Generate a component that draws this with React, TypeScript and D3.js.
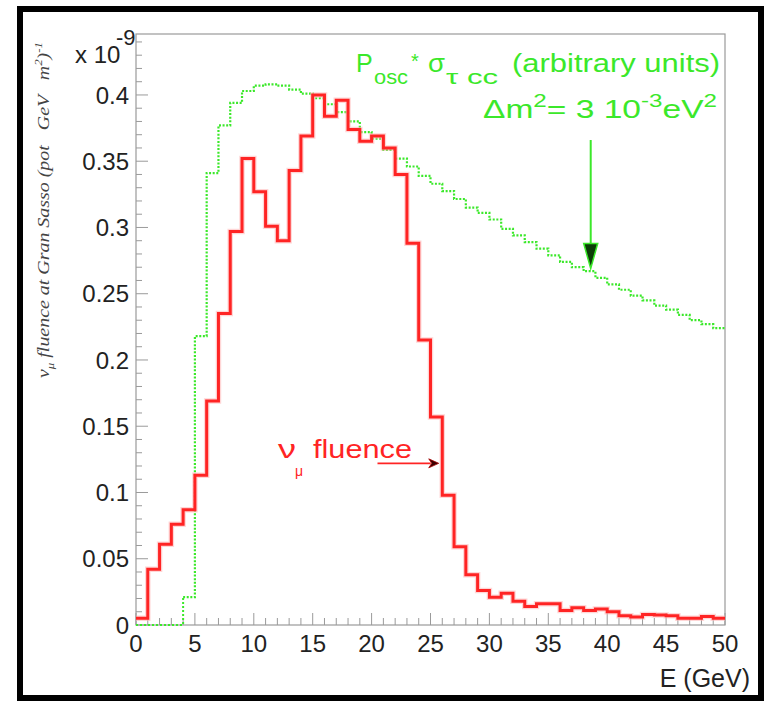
import React from 'react';
import * as d3 from 'd3';

// nu_mu fluence at Gran Sasso (x 1e-9), 1 GeV bins from 0 to 50
const binEdges = d3.range(0, 51, 1);
const numuFluence = [
  0.005, 0.042, 0.061, 0.076, 0.087, 0.113, 0.169, 0.235, 0.297, 0.352,
  0.327, 0.301, 0.290, 0.343, 0.369, 0.400, 0.384, 0.396, 0.374, 0.365,
  0.369, 0.360, 0.340, 0.288, 0.215, 0.157, 0.098, 0.059, 0.038, 0.026,
  0.021, 0.024, 0.018, 0.014, 0.016, 0.016, 0.011, 0.013, 0.011, 0.012,
  0.010, 0.007, 0.006, 0.008, 0.0075, 0.007, 0.005, 0.005, 0.0065, 0.005,
];
// P_osc * sigma_tau cc (arbitrary units)
const oscXsec = [
  0, 0, 0, 0, 0.021, 0.218, 0.341, 0.377, 0.394, 0.403,
  0.407, 0.408, 0.407, 0.404, 0.401, 0.3975, 0.393, 0.387, 0.380, 0.372,
  0.367, 0.3585, 0.352, 0.346, 0.339, 0.333, 0.3275, 0.3215, 0.315, 0.311,
  0.306, 0.299, 0.294, 0.289, 0.284, 0.279, 0.274, 0.270, 0.267, 0.262,
  0.257, 0.253, 0.2485, 0.245, 0.241, 0.238, 0.234, 0.230, 0.227, 0.224,
];

const xTickValues = [0, 5, 10, 15, 20, 25, 30, 35, 40, 45, 50];
const yTickValues = [0, 0.05, 0.1, 0.15, 0.2, 0.25, 0.3, 0.35, 0.4];
const yTickLabels = ['0', '0.05', '0.1', '0.15', '0.2', '0.25', '0.3', '0.35', '0.4'];

// annotation anchors in data units
const greenArrow = { x: 38.6, from: 0.366, to: 0.269 };
const redArrow = { from: 20.5, to: 25.7, y: 0.122 };

const W = 766;
const H = 701;
const frame = { left: 136, right: 725, top: 34, bottom: 625 };
const RED = '#ff2424';
const GREEN = '#3be82a';
const FONT = "'Liberation Sans', Arial, Helvetica, sans-serif";

const App = () => {
  const x = d3.scaleLinear().domain([0, 50]).range([frame.left, frame.right]);
  const y = d3.scaleLinear().domain([0, 0.446]).range([frame.bottom, frame.top]);

  const stepLine = d3.line<number[]>()
    .curve(d3.curveStepAfter)
    .x(d => x(d[0]))
    .y(d => y(d[1]));

  const toSteps = (vals: number[]) =>
    binEdges.map((e, i) => [e, vals[Math.min(i, vals.length - 1)]]);

  const greenStart = oscXsec.findIndex(v => v > 0);
  const greenZero = stepLine(toSteps(oscXsec).slice(0, greenStart + 1));
  const greenMain = stepLine(toSteps(oscXsec).slice(greenStart));
  const redPath = stepLine(toSteps(numuFluence));

  const minorY = d3.range(0, 0.445, 0.01);
  const minorX = d3.range(0, 51, 1);

  // arrows
  const gx = x(greenArrow.x);
  const gy0 = y(greenArrow.from);
  const gy1 = y(greenArrow.to);
  const rx0 = x(redArrow.from);
  const rx1 = x(redArrow.to);
  const ry = y(redArrow.y);

  return (
    <div style={{ position: 'absolute', left: 0, top: 0 }}>
      <svg width={W} height={H} style={{ display: 'block', background: '#fff' }}>
        {/* outer canvas border */}
        <rect x={20} y={9} width={741} height={689} fill="#fff" stroke="#000" strokeWidth={6} />

        {/* frame */}
        <rect x={frame.left} y={frame.top} width={frame.right - frame.left} height={frame.bottom - frame.top}
          fill="none" stroke="#9a9a9a" strokeWidth={1.2} />

        {/* y ticks */}
        {minorY.map((v, i) => (
          <line key={'my' + i} x1={frame.left} x2={frame.left + (i % 5 === 0 ? 12 : 6)}
            y1={y(v)} y2={y(v)} stroke="#9a9a9a" strokeWidth={1} />
        ))}
        {/* x ticks */}
        {minorX.map((v, i) => (
          <line key={'mx' + i} x1={x(v)} x2={x(v)} y1={frame.bottom}
            y2={frame.bottom - (i % 5 === 0 ? 12 : 7)} stroke="#9a9a9a" strokeWidth={1} />
        ))}

        {/* y tick labels */}
        {yTickValues.map((v, i) => (
          <text key={'yl' + i} x={129} y={y(v)} dy="0.36em" textAnchor="end"
            fontFamily={FONT} fontSize={24} fill="#222">{yTickLabels[i]}</text>
        ))}
        <text x={75} y={63} fontFamily={FONT} fontSize={24} fill="#222">x 10</text>
        <text x={116} y={45} fontFamily={FONT} fontSize={22} fill="#222">-9</text>

        {/* x tick labels */}
        {xTickValues.map(v => (
          <text key={'xl' + v} x={x(v)} y={652} textAnchor="middle"
            fontFamily={FONT} fontSize={24} fill="#222">{v}</text>
        ))}
        <text x={750} y={687} textAnchor="end" fontFamily={FONT} fontSize={25} fill="#222">E (GeV)</text>

        {/* y axis title */}
        <text transform="translate(49,378) rotate(-90)" fontFamily="'Liberation Serif', 'Times New Roman', serif"
          fontStyle="italic" fontSize={17} fill="#444" textLength={336} lengthAdjust="spacingAndGlyphs"
          style={{ whiteSpace: 'pre' }}>
          ν<tspan dy={5} fontSize={11}>μ</tspan><tspan dy={-5}> fluence at Gran Sasso (pot   GeV   m</tspan>
          <tspan dy={-7} fontSize={11}>2</tspan><tspan dy={7}>)</tspan><tspan dy={-7} fontSize={11}>-1</tspan>
        </text>

        {/* green oscillation curve */}
        <path d={greenZero || ''} fill="none" stroke={GREEN} strokeWidth={2} strokeDasharray="2,2" />
        <path d={greenMain || ''} fill="none" stroke={GREEN} strokeWidth={2.2} strokeDasharray="2,1.6" />

        {/* red fluence */}
        <path d={redPath || ''} fill="none" stroke="#ffb4b4" strokeWidth={5.5} opacity={0.55} />
        <path d={redPath || ''} fill="none" stroke={RED} strokeWidth={3} />

        {/* green arrow */}
        <line x1={gx} x2={gx} y1={gy0} y2={gy1 - 20} stroke={GREEN} strokeWidth={2} />
        <path d={`M${gx - 7},${gy1 - 25}L${gx + 7},${gy1 - 25}L${gx},${gy1}Z`} fill="#0c3d08" stroke={GREEN} strokeWidth={1.5} />

        {/* red arrow */}
        <line x1={rx0} x2={rx1 - 8} y1={ry} y2={ry} stroke={RED} strokeWidth={1.6} />
        <path d={`M${rx1 - 10},${ry - 4.5}L${rx1},${ry}L${rx1 - 10},${ry + 4.5}L${rx1 - 7},${ry}Z`} fill="#3a0000" stroke="#a00" strokeWidth={0.8} />

        {/* legend texts */}
        <g fontFamily={FONT} fill={GREEN}>
          <text x={356} y={72} fontSize={25}>P</text>
          <text x={374} y={84} fontSize={20} textLength={34} lengthAdjust="spacingAndGlyphs">osc</text>
          <text x={411} y={68} fontSize={20}>*</text>
          <text x={428} y={72} fontSize={25} textLength={17} lengthAdjust="spacingAndGlyphs">σ</text>
          <text x={446} y={84} fontSize={20} textLength={52} lengthAdjust="spacingAndGlyphs">τ cc</text>
          <text x={512} y={72} fontSize={25} textLength={208} lengthAdjust="spacingAndGlyphs">(arbitrary units)</text>
          <text x={483} y={118} fontSize={25} textLength={234} lengthAdjust="spacingAndGlyphs">
            Δm<tspan dy={-11} fontSize={18}>2</tspan><tspan dy={11}>= 3 10</tspan>
            <tspan dy={-11} fontSize={18}>-3</tspan><tspan dy={11}>eV</tspan><tspan dy={-11} fontSize={18}>2</tspan>
          </text>
        </g>

        <g fontFamily={FONT} fill={RED}>
          <text x={278} y={458} fontSize={26} textLength={18} lengthAdjust="spacingAndGlyphs">ν</text>
          <text x={295} y={476} fontSize={14}>μ</text>
          <text x={313} y={458} fontSize={25} textLength={99} lengthAdjust="spacingAndGlyphs">fluence</text>
        </g>
      </svg>
    </div>
  );
};

export default App;
